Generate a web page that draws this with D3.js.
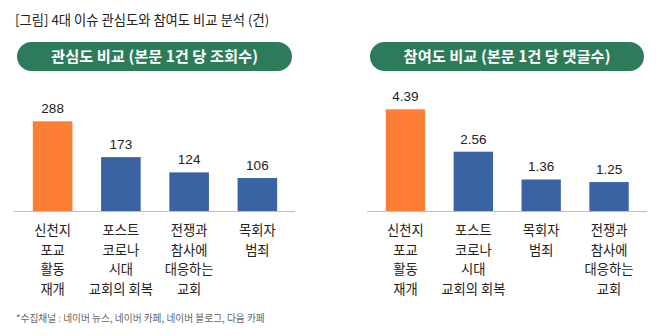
<!DOCTYPE html>
<html>
<head>
<meta charset="utf-8">
<script src="https://cdn.jsdelivr.net/npm/d3@7"></script>
<style>
  body { margin: 0; background: #fff; }
  svg { display: block; font-family: "Noto Sans CJK KR", "Noto Sans", sans-serif; }
</style>
</head>
<body>
<div id="chart"></div>
<script>
// data
var viewCategories = ["신천지 포교 활동 재개", "포스트 코로나 시대 교회의 회복", "전쟁과 참사에 대응하는 교회", "목회자 범죄"];
var viewLabels = [["신천지", "포교", "활동", "재개"], ["포스트", "코로나", "시대", "교회의 회복"], ["전쟁과", "참사에", "대응하는", "교회"], ["목회자", "범죄"]];
var viewValues = [288, 173, 124, 106];

var replyCategories = ["신천지 포교 활동 재개", "포스트 코로나 시대 교회의 회복", "목회자 범죄", "전쟁과 참사에 대응하는 교회"];
var replyLabels = [["신천지", "포교", "활동", "재개"], ["포스트", "코로나", "시대", "교회의 회복"], ["목회자", "범죄"], ["전쟁과", "참사에", "대응하는", "교회"]];
var replyValues = ["4.39", "2.56", "1.36", "1.25"];

var W = 665, H = 336;
var svg = d3.select("#chart").append("svg")
    .attr("width", W)
    .attr("height", H);

svg.append("text")
    .attr("x", 15).attr("y", 25)
    .attr("font-size", 13.3).attr("fill", "#222")
    .text("[그림] 4대 이슈 관심도와 참여도 비교 분석 (건)");

svg.append("text")
    .attr("x", 16).attr("y", 322)
    .attr("font-size", 9.7).attr("fill", "#666")
    .text("*수집채널 : 네이버 뉴스, 네이버 카페, 네이버 블로그, 다음 카페");

// one panel
function panel(opts) {
    var g = svg.append("g");

    // header pill
    g.append("rect")
        .attr("x", opts.pill[0]).attr("y", 42)
        .attr("width", opts.pill[1] - opts.pill[0]).attr("height", 29)
        .attr("rx", 14.5)
        .attr("fill", "#2d7b5a");
    g.append("text")
        .attr("x", (opts.pill[0] + opts.pill[1]) / 2).attr("y", 62)
        .attr("text-anchor", "middle")
        .attr("font-size", 15.3).attr("font-weight", "bold").attr("fill", "#fff")
        .text(opts.title);

    var base = 211;
    var x = d3.scaleBand()
        .domain(opts.cats)
        .range(opts.range)
        .paddingInner(0.42)
        .paddingOuter(0.21);
    var y = d3.scaleLinear()
        .domain([0, opts.max])
        .range([base, base - opts.h]);

    g.selectAll(".bar")
        .data(opts.values)
        .enter().append("rect")
        .attr("x", function(d, i) { return x(opts.cats[i]); })
        .attr("y", function(d) { return y(+d); })
        .attr("width", x.bandwidth())
        .attr("height", function(d) { return base - y(+d); })
        .attr("fill", function(d, i) { return i === 0 ? "#fd7e34" : "#3a63a4"; });

    g.selectAll(".val")
        .data(opts.values)
        .enter().append("text")
        .attr("x", function(d, i) { return x(opts.cats[i]) + x.bandwidth() / 2; })
        .attr("y", function(d) { return y(+d) - 8; })
        .attr("text-anchor", "middle")
        .attr("font-family", "'Liberation Sans', Arial, sans-serif")
        .attr("font-size", 13.5).attr("fill", "#222")
        .text(function(d) { return d; });

    g.append("line")
        .attr("x1", opts.axis[0]).attr("x2", opts.axis[1])
        .attr("y1", base + 0.5).attr("y2", base + 0.5)
        .attr("stroke", "#bfbfbf").attr("stroke-width", 1);

    // category labels, multi-line
    var lab = g.selectAll(".cat")
        .data(opts.labels)
        .enter().append("text")
        .attr("text-anchor", "middle")
        .attr("font-size", 13.3).attr("fill", "#222");
    lab.selectAll("tspan")
        .data(function(d, i) { return d.map(function(s) { return { s: s, i: i }; }); })
        .enter().append("tspan")
        .attr("x", function(d) { return x(opts.cats[d.i]) + x.bandwidth() / 2; })
        .attr("y", function(d, j) { return 235 + j * 19.7; })
        .text(function(d) { return d.s; });
}

panel({
    title: "관심도 비교 (본문 1건 당 조회수)",
    pill: [17, 292],
    cats: viewCategories, labels: viewLabels, values: viewValues,
    max: 288, h: 89.7,
    range: [18.5, 291.5], axis: [14, 295]
});

panel({
    title: "참여도 비교 (본문 1건 당 댓글수)",
    pill: [370, 644],
    cats: replyCategories, labels: replyLabels, values: replyValues,
    max: 4.39, h: 101.7,
    range: [371.5, 643], axis: [367, 647]
});
</script>
</body>
</html>
